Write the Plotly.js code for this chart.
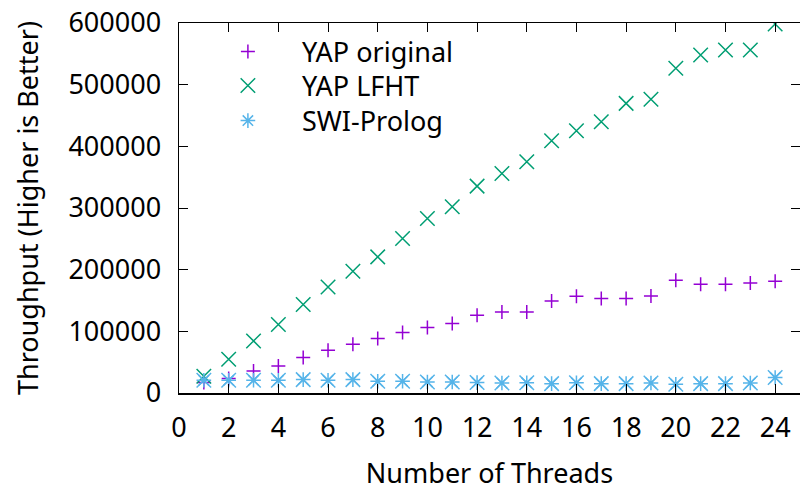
<!DOCTYPE html>
<html>
<head>
<meta charset="utf-8">
<script src="https://cdn.plot.ly/plotly-3.0.1.min.js"></script>
<style>html,body{margin:0;padding:0;background:#fff;}#chart{width:800px;height:491px;}</style>
</head>
<body>
<div id="chart"></div>
<script>
const threads = [1,2,3,4,5,6,7,8,9,10,11,12,13,14,15,16,17,18,19,20,21,22,23,24];
const yapOriginal = [17000,23400,35700,43800,57400,69300,79000,88300,98000,106100,112600,126100,131500,131500,149300,156900,153200,153200,157400,182900,176400,176400,178500,181300];
const yapLFHT = [27100,54700,84400,111000,143500,172000,197500,220700,250600,283000,301900,335500,356000,374900,409000,425200,439800,469700,476200,526500,548100,556200,556200,598400];
const swiProlog = [20600,20600,20600,20600,21700,20600,21700,19000,19000,17900,17900,16900,16200,16500,15200,16500,15200,15200,16200,14100,15200,15200,16200,25000];
const seriesNames = ["YAP original","YAP LFHT","SWI-Prolog"];
const xTicks = [0,2,4,6,8,10,12,14,16,18,20,22,24];
const yTicks = [0,100000,200000,300000,400000,500000,600000];

const FONT = "Noto Sans, Open Sans, sans-serif";
const FS = 27;
const traces = [
  {x: threads, y: yapOriginal, name: seriesNames[0], mode: "markers", type: "scatter", legend: "legend",
   marker: {symbol: "cross-thin-open", size: 10, color: "#9400d3", line: {color: "#9400d3", width: 1.5}}},
  {x: threads, y: yapLFHT, name: seriesNames[1], mode: "markers", type: "scatter", legend: "legend2",
   marker: {symbol: "x-thin-open", size: 14.5, color: "#009e73", line: {color: "#009e73", width: 1.5}}},
  {x: threads, y: swiProlog, name: seriesNames[2], mode: "markers", type: "scatter", legend: "legend3",
   marker: {symbol: "asterisk-open", size: 12.2, color: "#56b4e9", line: {color: "#56b4e9", width: 1.5}}},
  {x: threads, y: swiProlog, name: seriesNames[2], mode: "markers", type: "scatter", legend: "legend3", showlegend: false,
   marker: {symbol: "x-thin-open", size: 14.5, color: "#56b4e9", line: {color: "#56b4e9", width: 1.5}}}
];
function leg(y) {
  return {x: 0.024, y: y, xanchor: "left", yanchor: "middle", bgcolor: "rgba(0,0,0,0)",
          font: {family: FONT, size: FS, color: "#000"}, itemwidth: 98};
}
const layout = {
  width: 800, height: 491,
  margin: {l: 179, r: 0, t: 23, b: 98},
  paper_bgcolor: "#fff", plot_bgcolor: "#fff",
  font: {family: FONT, size: FS, color: "#000"},
  showlegend: true,
  legend: leg(0.9216),
  legend2: leg(0.8297),
  legend3: leg(0.7351),
  xaxis: {range: [0, 25], tickvals: xTicks, ticktext: xTicks.map(String), ticks: "inside", ticklen: 9,
          tickcolor: "#000", tickwidth: 1, showline: true, linecolor: "#000", linewidth: 1.5, mirror: "ticks",
          showgrid: false, zeroline: false, tickfont: {family: FONT, size: FS}, ticklabelstandoff: 10,
          title: {text: "Number of Threads", font: {family: FONT, size: FS}, standoff: 31}},
  yaxis: {range: [0, 600000], tickvals: yTicks, ticktext: yTicks.map(String), ticks: "inside", ticklen: 9,
          tickcolor: "#000", tickwidth: 1, showline: true, linecolor: "#000", linewidth: 1.5, mirror: "ticks",
          showgrid: false, zeroline: false, tickfont: {family: FONT, size: FS}, ticklabelstandoff: 11,
          title: {text: "Throughput (Higher is Better)", font: {family: FONT, size: FS}, standoff: 22}}
};
Plotly.newPlot("chart", traces, layout, {displayModeBar: false, staticPlot: true});
</script>
</body>
</html>
